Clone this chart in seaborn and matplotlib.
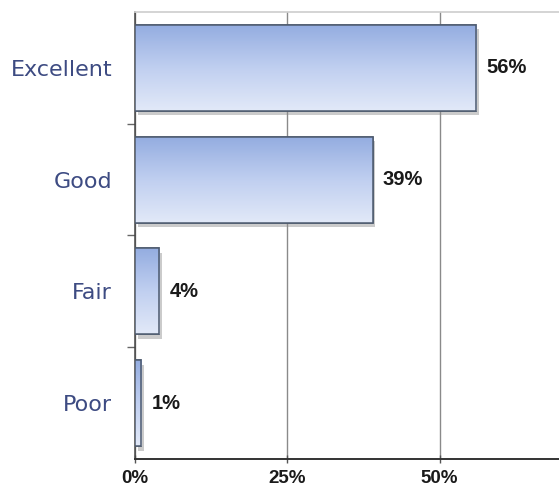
import numpy as np
import matplotlib
matplotlib.use("Agg")
import matplotlib.pyplot as plt
import seaborn as sns
from matplotlib.ticker import FixedLocator
from matplotlib.patches import Rectangle

categories = ["Excellent", "Good", "Fair", "Poor"]
values = [56, 39, 4, 1]
x_ticks = [0, 25, 50]
x_tick_labels = ["0%", "25%", "50%"]

sns.set_theme(style="white")
plt.rcParams["font.family"] = ["DejaVu Sans"]

fig = plt.figure(figsize=(5.59, 4.93), dpi=100)
ax = fig.add_axes([0.2415, 0.069, 0.7585, 0.9067])

sns.barplot(x=values, y=categories, orient="h", width=0.77,
            color="#b8c9ec", edgecolor="#4d5a6e", linewidth=1.1, ax=ax, zorder=3)

# vertical gradient fill and soft drop shadow for each bar
grad = np.linspace(0, 1, 256).reshape(-1, 1)
cmap = matplotlib.colors.LinearSegmentedColormap.from_list(
    "barfill", ["#93ace0", "#c0cff0", "#e2e9f8"])
for p in ax.patches:
    x0, y0 = p.get_x(), p.get_y()
    w, h = p.get_width(), p.get_height()
    shadow = Rectangle((x0 + 0.45, y0 + 0.04), w, h, facecolor="#8c8c8c",
                       edgecolor="none", alpha=0.45, zorder=2)
    ax.add_patch(shadow)
    im = ax.imshow(grad, cmap=cmap, aspect="auto", origin="upper",
                   extent=(x0, x0 + w, y0 + h, y0), zorder=3.5,
                   interpolation="bilinear")
    im.set_clip_path(p)
    edge = Rectangle((x0, y0), w, h, facecolor="none", edgecolor="#4d5a6e",
                     linewidth=1.1, zorder=4)
    ax.add_patch(edge)
ax.set_xlim(0, 69.6)
ax.set_ylim(3.5, -0.5)

# value labels
for i, v in enumerate(values):
    ax.text(v + 1.7, i, f"{v}%", va="center", ha="left", fontsize=14.5,
            fontweight="bold", color="#1a1a1a", family="Liberation Sans", zorder=5)

ax.xaxis.set_major_locator(FixedLocator(x_ticks))
ax.set_xticklabels(x_tick_labels, fontsize=13.5, fontweight="bold",
                   color="#1a1a1a", family="Liberation Sans")
ax.grid(axis="x", color="#8a8a8a", linewidth=1.0, zorder=1)
ax.grid(axis="y", visible=False)

ax.set_yticks(range(len(categories)))
ax.set_yticklabels(categories, fontsize=16, color="#3d4b82", family="DejaVu Sans")
ax.yaxis.set_minor_locator(FixedLocator([0.5, 1.5, 2.5]))
ax.tick_params(axis="y", which="major", length=0, pad=16.5)
ax.tick_params(axis="y", which="minor", length=6, width=1, color="#666666", left=True)
ax.tick_params(axis="x", which="major", length=6, width=1, color="#555555",
               bottom=True, direction="inout", pad=5)

ax.spines["right"].set_visible(False)
ax.spines["top"].set_color("#cfcfcf")
ax.spines["left"].set_color("#444444")
ax.spines["bottom"].set_color("#333333")
ax.spines["bottom"].set_linewidth(1.4)
ax.spines["left"].set_linewidth(1.1)
ax.set_xlabel("")
ax.set_ylabel("")

fig.savefig("out.png", dpi=100)
